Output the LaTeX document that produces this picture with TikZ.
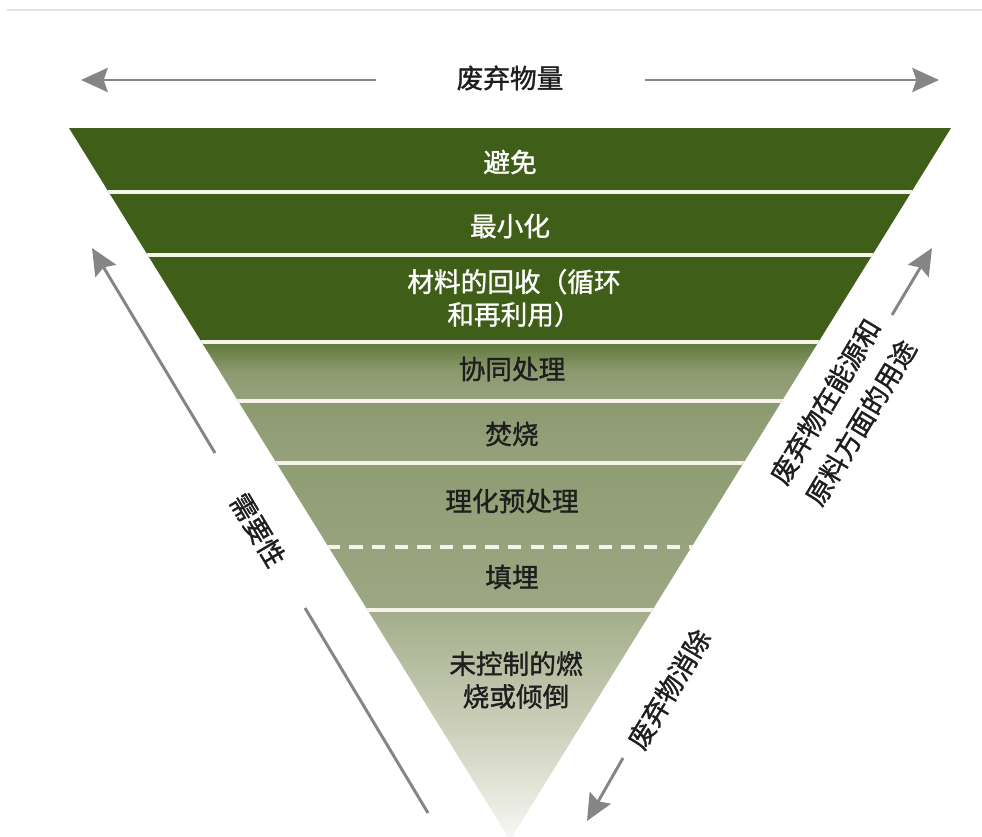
\documentclass[tikz,border=0pt]{standalone}
\usepackage{fontspec}
\setmainfont{Noto Sans CJK SC}[FakeBold=1.2]
\usetikzlibrary{arrows.meta}
\definecolor{dkgreen}{HTML}{3F5E18}
\definecolor{arrgray}{HTML}{858585}
\definecolor{rulegray}{HTML}{E2E2E2}
\definecolor{sepcol}{HTML}{F6F4EA}
\definecolor{textdark}{HTML}{1E1E1E}
\definecolor{gA}{HTML}{5E783A}
\definecolor{gB}{HTML}{8C9A6F}
\definecolor{gC}{HTML}{96A27C}
\definecolor{gD}{HTML}{8F9D73}
\definecolor{gE}{HTML}{9DA784}
\definecolor{gF}{HTML}{A4AD8A}
\definecolor{gG}{HTML}{CED2BD}
\begin{document}
\begin{tikzpicture}[x=0.75pt,y=-0.75pt,
  arr/.style={draw=arrgray, line width=2.2pt, -{Stealth[length=20pt,width=18pt,inset=3pt]}},
  seg/.style={draw=arrgray, line width=2.2pt},
  sep/.style={draw=sepcol, line width=2.4pt},
  lbl/.style={font=\fontsize{20}{24.5}\selectfont, align=center, inner sep=0pt},
  wlbl/.style={lbl, text=white},
  dlbl/.style={lbl, text=textdark},
  olbl/.style={lbl, text=textdark}]
\useasboundingbox (0,0) rectangle (982,836);
\fill[white] (0,0) rectangle (982,836);
\draw[rulegray, line width=1.5pt] (7,10) -- (982,10);

% triangle
\coordinate (TL) at (69,128);
\coordinate (TR) at (951,128);
\coordinate (AP) at (510,840);
\begin{scope}
  \clip (TL) -- (TR) -- (AP) -- cycle;
  \fill[dkgreen] (60,120) rectangle (960,342);
  \shade[top color=gA, bottom color=gC, middle color=gB] (60,342) rectangle (960,401);
  \shade[top color=gB, bottom color=gC] (60,401) rectangle (960,463);
  \shade[top color=gD, bottom color=gE] (60,463) rectangle (960,610);
  \shade[top color=gF, bottom color=white, middle color=gG] (60,610) rectangle (960,860);
  \draw[sep] (60,192) -- (960,192);
  \draw[sep] (60,255) -- (960,255);
  \draw[sep] (60,342) -- (960,342);
  \draw[sep] (60,401) -- (960,401);
  \draw[sep] (60,463) -- (960,463);
  \draw[sep, dash pattern=on 10pt off 7pt, dash phase=4pt] (60,547) -- (960,547);
  \draw[sep] (60,610) -- (960,610);
\end{scope}

% band labels
\node[wlbl] (b1) at (510,162) {避免};
\node[wlbl] (b2) at (510,226) {最小化};
\node[wlbl] (b3) at (514,298) {材料的回收（循环\\和再利用）};
\node[dlbl] (b4) at (512,369) {协同处理};
\node[dlbl] (b5) at (512,434) {焚烧};
\node[dlbl] (b6) at (512,501) {理化预处理};
\node[dlbl] (b7) at (512,577) {填埋};
\node[dlbl] (b8) at (516,680) {未控制的燃\\烧或倾倒};

% top arrows
\node[olbl] (title) at (510,78) {废弃物量};
\coordinate (tl1) at (376,80);
\coordinate (tl2) at (81,80);
\coordinate (tr1) at (645,80);
\coordinate (tr2) at (939,80);
\draw[arr] (tl1) -- (tl2);
\draw[arr] (tr1) -- (tr2);

% left arrow
\coordinate (la1) at (215,453);
\coordinate (la2) at (92,248);
\coordinate (la3) at (305,608);
\coordinate (la4) at (428,813);
\draw[arr] (la1) -- (la2);
\draw[seg] (la3) -- (la4);
\node[olbl, rotate=-59.3] (need) at (258,530) {需要性};

% right arrows
\coordinate (ra1) at (892,315);
\coordinate (ra2) at (932,248);
\coordinate (ra3) at (623,758);
\coordinate (ra4) at (587,821);
\draw[arr] (ra1) -- (ra2);
\draw[arr] (ra3) -- (ra4);
\node[olbl, rotate=59, font=\fontsize{20}{31}\selectfont] (use) at (843,412) {废弃物在能源和\\原料方面的用途};
\node[olbl, rotate=59] (elim) at (669,689) {废弃物消除};
\end{tikzpicture}
\end{document}
